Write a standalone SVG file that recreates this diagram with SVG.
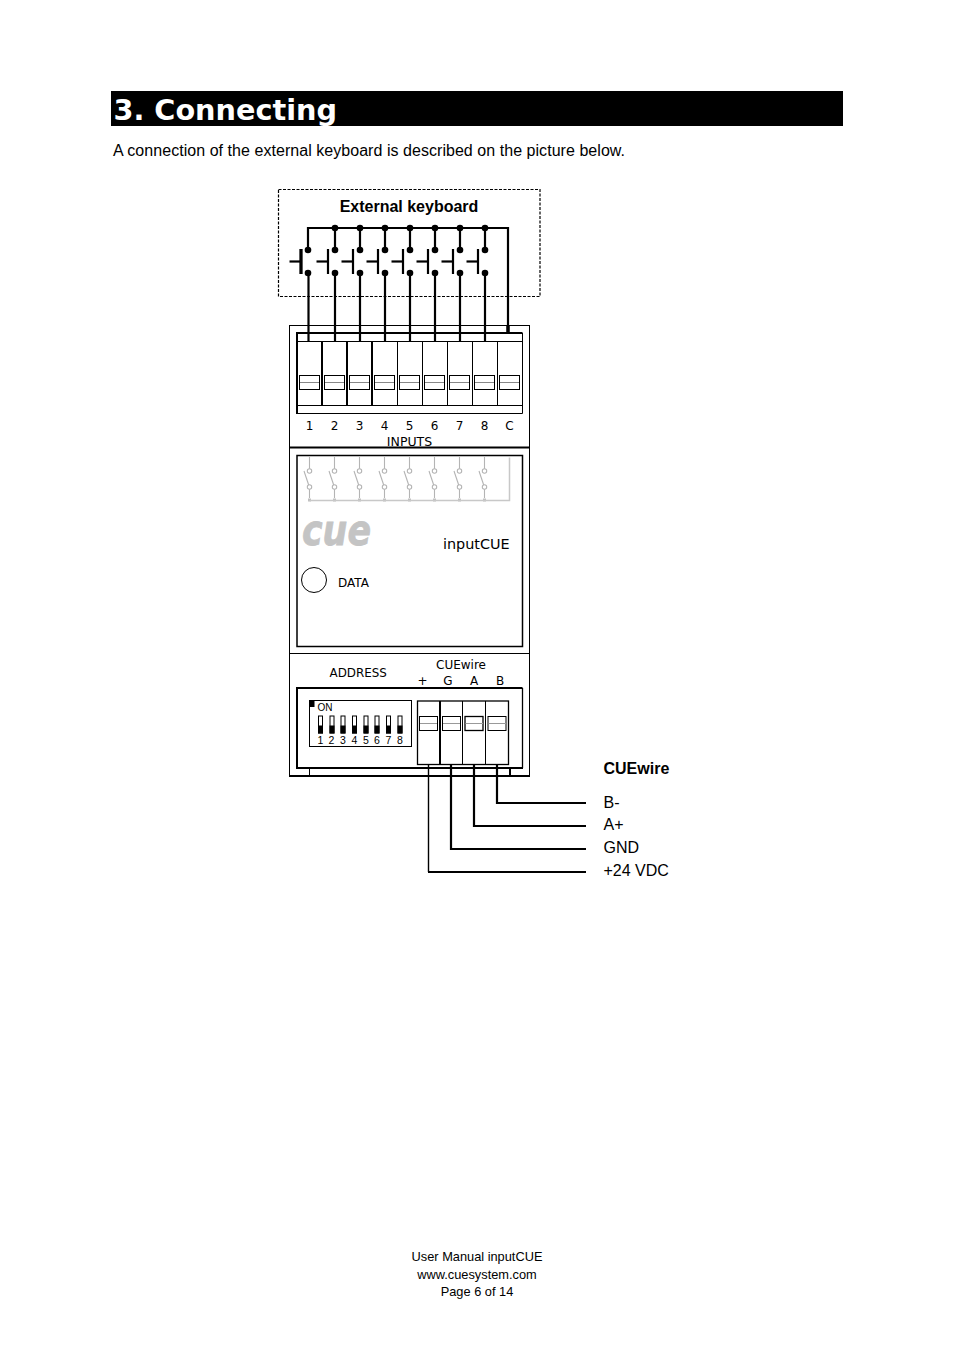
<svg xmlns="http://www.w3.org/2000/svg" xmlns:xlink="http://www.w3.org/1999/xlink" width="954" height="1351" viewBox="0 0 954 1351">
<style>
.sans{font-family:"Liberation Sans",Arial,sans-serif;fill:#000}
.dj{font-family:"DejaVu Sans",Verdana,sans-serif;fill:#000}
.w{fill:none;stroke:#000;stroke-width:2.200}
.t1{fill:none;stroke:#000;stroke-width:1}
.t2{fill:none;stroke:#000;stroke-width:2}
.g{fill:none;stroke:#c8c8c8;stroke-width:1.500}
.gt{fill:none;stroke:#b4b4b4;stroke-width:1.100}
</style>
<defs>
<g id="key"><path class="w" d="M-18.500 11.500H-7"/><path d="M-7 -1V24" fill="none" stroke="#000" stroke-width="2.200"/><circle cx="0" cy="0" r="3.300" fill="#000"/><circle cx="0" cy="23" r="3.300" fill="#000"/></g>
<g id="slot"><rect class="t1" x="0.500" y="0.500" width="20" height="14"/><path d="M1 7.500H20" stroke="#888" stroke-width="1"/></g>
<g id="rel"><path class="gt" d="M0 0V11.800M0 32.200V41"/><circle class="gt" cx="0" cy="14" r="2.200"/><circle class="gt" cx="0" cy="30" r="2.200"/><path class="gt" d="M-5.500 14L-0.800 28"/><rect x="-1.500" y="41.500" width="3" height="3" fill="#c0c0c0"/></g>
<g id="dip"><rect x="0.500" y="0.500" width="4" height="17" fill="#fff" stroke="#000" stroke-width="1"/><rect x="0" y="10" width="5" height="8" fill="#000"/></g>
</defs>

<g id="page-header">
<rect x="111" y="91" width="732" height="35" fill="#000"/>
<text x="113.500" y="119.500" font-size="28.700" font-weight="700" style="font-family:'DejaVu Sans',Verdana,sans-serif;fill:#fff">3. Connecting</text>
<text class="sans" x="113" y="156" font-size="16" textLength="512" lengthAdjust="spacing">A connection of the external keyboard is described on the picture below.</text>
</g>

<g id="connectors">
<path class="w" d="M308 250V228H508V333"/>
<path class="w" d="M335 228V250M360 228V250M385 228V250M410 228V250M435 228V250M460 228V250M485 228V250"/>
<path class="w" d="M308.500 273V342M335 273V342M360 273V342M385 273V342M410 273V342M435 273V342M460 273V342M485 273V342"/>
<path d="M508 325V334" stroke="#000" stroke-width="3.500" fill="none"/>
<path d="M428.500 764V872" fill="none" stroke="#000" stroke-width="1.400"/>
<path class="w" d="M428 872H586M451 764V849H586M474 764V826H586M497 764V803H586"/>
</g>

<g id="external-keyboard">
<rect x="278.500" y="189.500" width="261.500" height="107" fill="none" stroke="#000" stroke-width="1.200" stroke-dasharray="3 1.500"/>
<text class="sans" text-anchor="middle" x="409" y="212" font-size="16" font-weight="700">External keyboard</text>
<g fill="#000"><circle cx="335" cy="228" r="3.300"/><circle cx="360" cy="228" r="3.300"/><circle cx="385" cy="228" r="3.300"/><circle cx="410" cy="228" r="3.300"/><circle cx="435" cy="228" r="3.300"/><circle cx="460" cy="228" r="3.300"/><circle cx="485" cy="228" r="3.300"/></g>
<use xlink:href="#key" href="#key" x="308" y="250"/>
<path d="M301 249V274" stroke="#000" stroke-width="3.200" fill="none"/>
<use xlink:href="#key" href="#key" x="335" y="250"/>
<use xlink:href="#key" href="#key" x="360" y="250"/>
<use xlink:href="#key" href="#key" x="385" y="250"/>
<use xlink:href="#key" href="#key" x="410" y="250"/>
<use xlink:href="#key" href="#key" x="435" y="250"/>
<use xlink:href="#key" href="#key" x="460" y="250"/>
<use xlink:href="#key" href="#key" x="485" y="250"/>
</g>

<g id="inputcue-module">
<rect class="t1" x="289.500" y="325.500" width="240" height="450.500"/>
<path class="t2" d="M289 447.500H530M289 776H530"/>
<path class="t1" d="M289 653.500H530"/>
</g>

<g id="inputs-terminal">
<path class="t2" d="M297 413V333H522.500"/>
<path class="t1" d="M522.500 333V413.500H296M297 341.500H522M297 405.500H522M397.500 341V405M422.500 341V405M447.500 341V405M472.500 341V405M497.500 341V405"/>
<path class="t2" d="M322 341V405M347 341V405M372 341V405"/>
<use xlink:href="#slot" href="#slot" x="299" y="375"/>
<use xlink:href="#slot" href="#slot" x="324" y="375"/>
<use xlink:href="#slot" href="#slot" x="349" y="375"/>
<use xlink:href="#slot" href="#slot" x="374" y="375"/>
<use xlink:href="#slot" href="#slot" x="399" y="375"/>
<use xlink:href="#slot" href="#slot" x="424" y="375"/>
<use xlink:href="#slot" href="#slot" x="449" y="375"/>
<use xlink:href="#slot" href="#slot" x="474" y="375"/>
<use xlink:href="#slot" href="#slot" x="499" y="375"/>
<g class="dj" font-size="12" text-anchor="middle"><text x="309.500" y="430">1</text><text x="334.500" y="430">2</text><text x="359.500" y="430">3</text><text x="384.500" y="430">4</text><text x="409.500" y="430">5</text><text x="434.500" y="430">6</text><text x="459.500" y="430">7</text><text x="484.500" y="430">8</text><text x="509.500" y="430">C</text>
<text x="409.500" y="445.500" font-size="12.500">INPUTS</text></g>
</g>

<g id="status-panel">
<rect x="297" y="455.500" width="225.500" height="191" fill="none" stroke="#000" stroke-width="1.500"/>
<use xlink:href="#rel" href="#rel" x="309.500" y="457"/>
<use xlink:href="#rel" href="#rel" x="334.500" y="457"/>
<use xlink:href="#rel" href="#rel" x="359.500" y="457"/>
<use xlink:href="#rel" href="#rel" x="384.500" y="457"/>
<use xlink:href="#rel" href="#rel" x="409.500" y="457"/>
<use xlink:href="#rel" href="#rel" x="434.500" y="457"/>
<use xlink:href="#rel" href="#rel" x="459.500" y="457"/>
<use xlink:href="#rel" href="#rel" x="484.500" y="457"/>
<path class="g" d="M309.500 500.500H509.500V457.500"/>
<text x="302" y="545" font-size="42" font-weight="700" font-style="italic" textLength="69" lengthAdjust="spacingAndGlyphs" stroke="#c4c4c4" stroke-width="0.800" style="font-family:'DejaVu Sans',Verdana,sans-serif;fill:#c4c4c4">cue</text>
<text class="dj" x="443" y="549" font-size="14.400">inputCUE</text>
<circle cx="314" cy="580" r="12.500" fill="none" stroke="#000" stroke-width="1"/>
<text class="dj" x="338" y="587" font-size="12">DATA</text>
</g>

<g id="cuewire-panel">
<text class="dj" x="329.500" y="677" font-size="11.900">ADDRESS</text>
<text class="dj" x="436" y="669" font-size="12">CUEwire</text>
<g class="dj" font-size="12" text-anchor="middle"><text x="422.500" y="685">+</text><text x="448" y="685">G</text><text x="474" y="685">A</text><text x="500" y="685">B</text></g>
<path class="t2" d="M297 768V688H522.500M296 768H523"/>
<path d="M522.500 688V768" fill="none" stroke="#000" stroke-width="1.300"/>
<path class="t1" d="M309.500 768V776"/>
<path class="t2" d="M510 768V776"/>
</g>

<g id="address-dip">
<rect class="t1" x="309.500" y="700.500" width="102" height="46"/>
<rect x="309.500" y="701" width="5" height="6" fill="#000"/>
<text class="sans" x="317.500" y="711" font-size="10">ON</text>
<use xlink:href="#dip" href="#dip" x="318" y="715.500"/>
<use xlink:href="#dip" href="#dip" x="329.500" y="715.500"/>
<use xlink:href="#dip" href="#dip" x="340.500" y="715.500"/>
<use xlink:href="#dip" href="#dip" x="352" y="715.500"/>
<use xlink:href="#dip" href="#dip" x="363.500" y="715.500"/>
<use xlink:href="#dip" href="#dip" x="374.500" y="715.500"/>
<use xlink:href="#dip" href="#dip" x="386" y="715.500"/>
<use xlink:href="#dip" href="#dip" x="397.500" y="715.500"/>
<g class="sans" font-size="10.500" text-anchor="middle"><text x="320.500" y="744">1</text><text x="331.500" y="744">2</text><text x="343" y="744">3</text><text x="354.500" y="744">4</text><text x="366" y="744">5</text><text x="377" y="744">6</text><text x="388.500" y="744">7</text><text x="400" y="744">8</text></g>
</g>

<g id="cuewire-terminal">
<rect x="417.500" y="701" width="91" height="63.500" fill="none" stroke="#000" stroke-width="1.300"/>
<path class="t2" d="M440 701V764"/>
<path class="t1" d="M462.500 701V764M485.500 701V764"/>
<rect class="t1" x="419.500" y="716.500" width="18" height="14"/><rect class="t1" x="442.500" y="716.500" width="18" height="14"/><rect x="465" y="716.500" width="18" height="14" fill="none" stroke="#000" stroke-width="1.300"/><rect class="t1" x="488" y="716.500" width="18" height="14"/>
<path d="M420 723.500H437M443 723.500H460M465.500 723.500H483M488.500 723.500H506" fill="none" stroke="#999" stroke-width="1"/>
</g>

<g id="cuewire-labels">
<text class="sans" x="603.500" y="774" font-size="16" font-weight="700">CUEwire</text>
<text class="sans" x="603.500" y="807.500" font-size="16">B-</text>
<text class="sans" x="603.500" y="830" font-size="16">A+</text>
<text class="sans" x="603.500" y="853" font-size="16">GND</text>
<text class="sans" x="603.500" y="876" font-size="16">+24 VDC</text>
</g>

<g id="footer" class="sans" font-size="12.800" text-anchor="middle">
<text x="477" y="1261">User Manual inputCUE</text>
<text x="477" y="1279">www.cuesystem.com</text>
<text x="477" y="1296">Page 6 of 14</text>
</g>
</svg>
